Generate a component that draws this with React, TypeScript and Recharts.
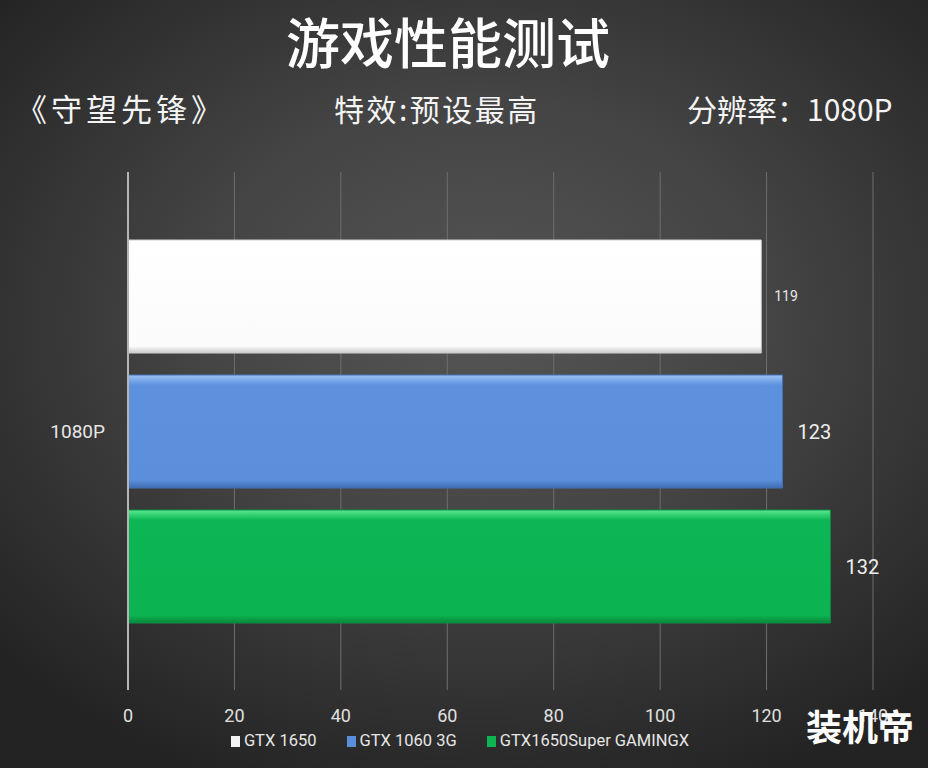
// App.tsx - 守望先锋 1080P 游戏性能测试

import { BarChart, Bar, XAxis, YAxis, CartesianGrid, LabelList, Legend } from 'recharts';

const categories = ['1080P'];
const seriesNames = ['GTX 1650', 'GTX 1060 3G', 'GTX1650Super GAMINGX'];
const gtx1650 = [119];
const gtx10603g = [123];
const gtx1650super = [132];
const xTicks = [0, 20, 40, 60, 80, 100, 120, 140];

const data = categories.map((c, i) => ({
  name: c,
  a: gtx1650[i],
  b: gtx10603g[i],
  c: gtx1650super[i],
}));

const legendColors = ['#f2f2f2', '#5b8fdc', '#0cb552'];
const narrow = '"Liberation Sans Narrow", "Roboto", "Noto Sans CJK SC", sans-serif';
const cjk = '"Noto Sans CJK SC", sans-serif';

const renderLegend = () => (
  <div
    style={{
      display: 'flex',
      justifyContent: 'center',
      gap: 30,
      fontFamily: narrow,
      fontSize: 16.5,
      color: '#e6e6e6',
      paddingRight: 8,
      height: 20,
      lineHeight: '20px',
    }}
  >
    {seriesNames.map((n, i) => (
      <div key={n} style={{ display: 'flex', alignItems: 'center', gap: 4 }}>
        <span style={{ width: 9, height: 11, background: legendColors[i], display: 'inline-block' }} />
        <span>{n}</span>
      </div>
    ))}
  </div>
);

export default function App() {
  return (
    <div
      style={{
        position: 'absolute',
        top: 0,
        left: 0,
        width: 928,
        height: 768,
        overflow: 'hidden',
        background: 'radial-gradient(ellipse 70% 65% at 52% 42%, #555555 0%, #444444 45%, #2c2c2c 85%, #232323 100%)',
      }}
    >
      <div
        style={{
          position: 'absolute',
          top: 6,
          left: -16,
          width: 928,
          textAlign: 'center',
          fontFamily: cjk,
          fontSize: 54,
          fontWeight: 500,
          color: '#ffffff',
          lineHeight: '70px',
        }}
      >
        游戏性能测试
      </div>
      <div style={{ position: 'absolute', top: 88, left: 16, fontFamily: cjk, fontSize: 31, letterSpacing: 4, color: '#f4f4f4', lineHeight: '40px' }}>
        《守望先锋》
      </div>
      <div style={{ position: 'absolute', top: 88, left: 334, fontFamily: cjk, fontSize: 30, letterSpacing: 2.5, color: '#f4f4f4', lineHeight: '40px' }}>
        特效:预设最高
      </div>
      <div style={{ position: 'absolute', top: 88, left: 687, fontFamily: cjk, fontSize: 30, color: '#f4f4f4', lineHeight: '40px' }}>
        分辨率：1080P
      </div>

      <BarChart
        width={928}
        height={768}
        data={data}
        layout="vertical"
        margin={{ top: 172, right: 55, bottom: 28, left: 28 }}
        barSize={113}
        barGap={22}
        style={{ position: 'absolute', top: 0, left: 0 }}
      >
        <defs>
          <linearGradient id="gWhite" x1="0" y1="0" x2="0" y2="1">
            <stop offset="0%" stopColor="#ffffff" />
            <stop offset="94%" stopColor="#fbfbfb" />
            <stop offset="100%" stopColor="#c9c9c9" />
          </linearGradient>
          <linearGradient id="gBlue" x1="0" y1="0" x2="0" y2="1">
            <stop offset="0%" stopColor="#9cc2f2" />
            <stop offset="5%" stopColor="#78a7ea" />
            <stop offset="9%" stopColor="#5d91de" />
            <stop offset="93%" stopColor="#5b8edb" />
            <stop offset="100%" stopColor="#3f6db3" />
          </linearGradient>
          <linearGradient id="gGreen" x1="0" y1="0" x2="0" y2="1">
            <stop offset="0%" stopColor="#5ae894" />
            <stop offset="5%" stopColor="#2ccd6c" />
            <stop offset="9%" stopColor="#0db654" />
            <stop offset="93%" stopColor="#0bb451" />
            <stop offset="100%" stopColor="#08883c" />
          </linearGradient>
        </defs>
        <CartesianGrid horizontal={false} stroke="#6e6e6e" strokeWidth={1} />
        <XAxis
          type="number"
          domain={[0, 140]}
          ticks={xTicks}
          axisLine={false}
          tickLine={false}
          tickSize={0}
          tickMargin={19}
          height={30}
          tick={{ fill: '#e0e0e0', fontSize: 18, fontFamily: narrow }}
        />
        <YAxis
          type="category"
          dataKey="name"
          width={100}
          axisLine={{ stroke: '#b5b5b5', strokeWidth: 2 }}
          tickLine={false}
          tickSize={0}
          tickMargin={23}
          tick={{ fill: '#e6e6e6', fontSize: 19, fontFamily: narrow }}
        />
        <Legend
          content={renderLegend}
          wrapperStyle={{ position: 'absolute', top: 731, left: 0, width: 928 }}
        />
        <Bar dataKey="a" name={seriesNames[0]} fill="url(#gWhite)" stroke="#d0d0d0" strokeWidth={1} isAnimationActive={false}>
          <LabelList dataKey="a" position="right" offset={13} fill="#e8e8e8" fontSize={14} fontFamily={narrow} />
        </Bar>
        <Bar dataKey="b" name={seriesNames[1]} fill="url(#gBlue)" stroke="#4470b8" strokeWidth={1} isAnimationActive={false}>
          <LabelList dataKey="b" position="right" offset={15} fill="#eeeeee" fontSize={20} fontFamily={narrow} />
        </Bar>
        <Bar dataKey="c" name={seriesNames[2]} fill="url(#gGreen)" stroke="#0a8f42" strokeWidth={1} isAnimationActive={false}>
          <LabelList dataKey="c" position="right" offset={15} fill="#eeeeee" fontSize={20} fontFamily={narrow} />
        </Bar>
      </BarChart>

      <div
        style={{
          position: 'absolute',
          top: 700,
          left: 806,
          fontFamily: cjk,
          fontSize: 36,
          fontWeight: 700,
          color: '#ffffff',
          lineHeight: '50px',
        }}
      >
        装机帝
      </div>
    </div>
  );
}
